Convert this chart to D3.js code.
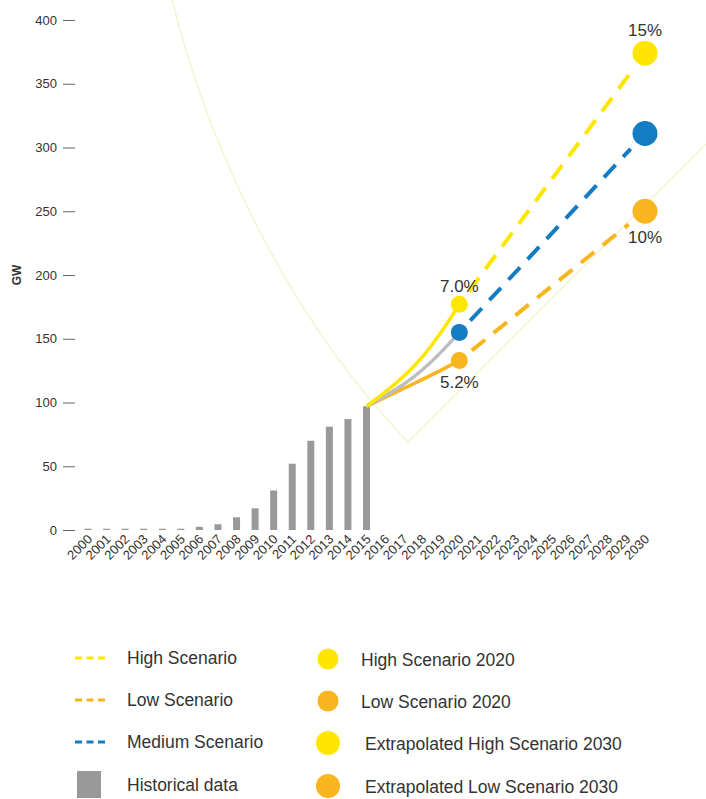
<!DOCTYPE html>
<html>
<head>
<meta charset="utf-8">
<script src="https://cdn.jsdelivr.net/npm/d3@7"></script>
<style>
  body { margin: 0; background: #fff; }
  text { font-family: "Liberation Sans", Arial, sans-serif; fill: #333; }
</style>
</head>
<body>
<script>
const width = 706;
const height = 799;

// data
const years = d3.range(2000, 2031).map(String);
const histYears = d3.range(2000, 2016).map(String);
const histValues = [1, 1, 1, 1, 1, 1, 2.5, 4.5, 10, 17, 31, 52, 70, 81, 87, 97];
const curveYears = ["2015", "2016", "2017", "2018", "2019", "2020"];
const highCurve = [97, 108, 120, 135, 154, 177];
const mediumCurve = [97, 105, 114, 125, 139, 155];
const lowCurve = [97, 104, 111, 118, 125, 133];
const projYears = ["2020", "2030"];
const highProj = [177, 374];
const mediumProj = [155, 311];
const lowProj = [133, 250];
const yTicks = [0, 50, 100, 150, 200, 250, 300, 350, 400];

const yellow = "#FFE600";
const orange = "#F9B51E";
const blue = "#137CC2";
const grayLine = "#BEBEBE";
const grayBar = "#999999";

const svg = d3.select("body").append("svg")
    .attr("width", width)
    .attr("height", height);

const x = d3.scalePoint()
    .domain(years)
    .range([88, 645]);

const y = d3.scaleLinear()
    .domain([0, 400])
    .range([530, 20]);

// faint decorative beam in the background
svg.append("path")
    .attr("d", "M172,0 C215,170 300,330 408,442 L706,144")
    .attr("fill", "none")
    .attr("stroke", "#F4F4D2")
    .attr("stroke-width", 1.5);

// y axis
const yAxis = svg.append("g")
    .attr("transform", "translate(75,0)")
    .call(d3.axisLeft(y).tickValues(yTicks).tickSize(12).tickPadding(6));
yAxis.select(".domain").remove();
yAxis.selectAll(".tick line").attr("stroke", "#666");
yAxis.selectAll(".tick text")
    .style("font-size", "13px")
    .style("font-family", "Liberation Sans, Arial, sans-serif")
    .attr("fill", "#333");

svg.append("text")
    .attr("transform", `translate(21,${y(200)}) rotate(-90)`)
    .attr("text-anchor", "middle")
    .style("font-size", "12px")
    .style("font-weight", "bold")
    .text("GW");

// x labels
svg.append("g").selectAll("text")
    .data(years)
    .enter().append("text")
    .attr("transform", d => `translate(${x(d) + 5},${y(0) + 10}) rotate(-45)`)
    .attr("text-anchor", "end")
    .style("font-size", "13px")
    .text(d => d);

// historical bars
svg.selectAll(".bar")
    .data(histYears)
    .enter().append("rect")
    .attr("class", "bar")
    .attr("x", d => x(d) - 3.5)
    .attr("width", 7)
    .attr("y", (d, i) => y(histValues[i]))
    .attr("height", (d, i) => y(0) - y(histValues[i]))
    .attr("fill", grayBar);

// solid curves 2015-2020
const line = d3.line()
    .x(d => x(d[0]))
    .y(d => y(d[1]))
    .curve(d3.curveBasis);

[[lowCurve, orange], [mediumCurve, grayLine], [highCurve, yellow]].forEach(([vals, col]) => {
    svg.append("path")
        .datum(curveYears.map((yr, i) => [yr, vals[i]]))
        .attr("d", line)
        .attr("fill", "none")
        .attr("stroke", col)
        .attr("stroke-width", 3.5);
});

// dashed projections, trimmed near the dots
function trimmed(vals, cut0, cut1) {
    const x0 = x(projYears[0]), y0 = y(vals[0]);
    const x1 = x(projYears[1]), y1 = y(vals[1]);
    const len = Math.hypot(x1 - x0, y1 - y0);
    const ux = (x1 - x0) / len, uy = (y1 - y0) / len;
    return [[x0 + ux * cut0, y0 + uy * cut0], [x1 - ux * cut1, y1 - uy * cut1]];
}

[[highProj, yellow], [mediumProj, blue], [lowProj, orange]].forEach(([vals, col]) => {
    const pts = trimmed(vals, 16, 21);
    svg.append("line")
        .attr("x1", pts[0][0]).attr("y1", pts[0][1])
        .attr("x2", pts[1][0]).attr("y2", pts[1][1])
        .attr("stroke", col)
        .attr("stroke-width", 4)
        .attr("stroke-dasharray", "17,11");
});

// dots
[[highProj, yellow], [mediumProj, blue], [lowProj, orange]].forEach(([vals, col]) => {
    svg.append("circle")
        .attr("cx", x(projYears[0]))
        .attr("cy", y(vals[0]))
        .attr("r", 8.5)
        .attr("fill", col);
    svg.append("circle")
        .attr("cx", x(projYears[1]))
        .attr("cy", y(vals[1]))
        .attr("r", 12.5)
        .attr("fill", col);
});

// percentage labels
const pctLabels = [
    { year: "2030", value: highProj[1], text: "15%", dy: -17 },
    { year: "2030", value: lowProj[1], text: "10%", dy: 32 },
    { year: "2020", value: highProj[0], text: "7.0%", dy: -12 },
    { year: "2020", value: lowProj[0], text: "5.2%", dy: 28 }
];
svg.selectAll(".pct")
    .data(pctLabels)
    .enter().append("text")
    .attr("class", "pct")
    .attr("x", d => x(d.year))
    .attr("y", d => y(d.value) + d.dy)
    .attr("text-anchor", "middle")
    .style("font-size", "17px")
    .attr("fill", "#444")
    .text(d => d.text);

// legend
const legendLines = [
    { label: "High Scenario", color: yellow },
    { label: "Low Scenario", color: orange },
    { label: "Medium Scenario", color: blue }
];
const legendDots = [
    { label: "High Scenario 2020", color: yellow, r: 10.5, tx: 361 },
    { label: "Low Scenario 2020", color: orange, r: 10.5, tx: 361 },
    { label: "Extrapolated High Scenario 2030", color: yellow, r: 12, tx: 365 },
    { label: "Extrapolated Low Scenario 2030", color: orange, r: 12, tx: 365 }
];
const rowY = [658, 700, 742, 785];

const legend = svg.append("g");
legendLines.forEach((d, i) => {
    legend.append("line")
        .attr("x1", 75).attr("x2", 106)
        .attr("y1", rowY[i]).attr("y2", rowY[i])
        .attr("stroke", d.color)
        .attr("stroke-width", 3)
        .attr("stroke-dasharray", "7,4.5");
    legend.append("text")
        .attr("x", 127)
        .attr("y", rowY[i])
        .attr("dy", "0.35em")
        .style("font-size", "17.5px")
        .text(d.label);
});
legend.append("rect")
    .attr("x", 77).attr("y", 771)
    .attr("width", 24).attr("height", 27)
    .attr("fill", grayBar);
legend.append("text")
    .attr("x", 127)
    .attr("y", rowY[3])
    .attr("dy", "0.35em")
    .style("font-size", "17.5px")
    .text("Historical data");

legendDots.forEach((d, i) => {
    legend.append("circle")
        .attr("cx", 328)
        .attr("cy", rowY[i] + 1)
        .attr("r", d.r)
        .attr("fill", d.color);
    legend.append("text")
        .attr("x", d.tx)
        .attr("y", rowY[i] + 2)
        .attr("dy", "0.35em")
        .style("font-size", "17.5px")
        .text(d.label);
});
</script>
</body>
</html>
